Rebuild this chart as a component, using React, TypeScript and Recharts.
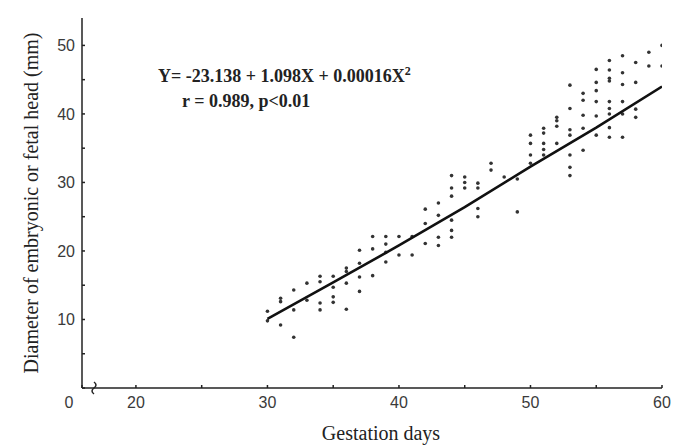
import React from "react"
import { ScatterChart, Scatter, XAxis, YAxis, Customized } from "recharts"

// individual measurements, grouped by gestation day
const pointDays = [30, 31, 32, 33, 34, 35, 36, 37, 38, 39, 40, 41, 42, 43, 44, 45, 46, 47, 48, 49, 50, 51, 52, 53, 54, 55, 56, 57, 58, 59, 60]
const pointValues = [
  [11.2, 9.8],
  [13.1, 12.6, 9.2],
  [14.3, 11.4, 7.4],
  [15.3, 12.8],
  [16.3, 15.5, 12.4, 11.4],
  [16.3, 14.7, 13.3, 12.5],
  [17.5, 17, 15.3, 11.5],
  [20.1, 18.2, 16.2, 14.1],
  [22.1, 20.3, 16.4],
  [22.1, 21, 19.8, 18.4],
  [22.1, 19.4],
  [22.1, 19.4],
  [26.1, 24, 21.1],
  [27, 25.2, 22, 20.8],
  [31, 29.2, 28, 24.5, 23, 22],
  [30.8, 30, 29.2],
  [29.9, 29.2, 26.2, 25],
  [32.8, 31.8],
  [30.8],
  [30.5, 25.7],
  [36.9, 35.7, 34, 32.8],
  [37.9, 37.2, 35.7, 34.8, 34],
  [39.5, 39, 38.2, 35.7],
  [44.2, 40.8, 37.7, 36.9, 34, 32.2, 31],
  [43, 42, 39.8, 37.9, 34.7],
  [46.5, 44.6, 43.4, 41.8, 39.7, 36.9],
  [47.8, 46.4, 45.2, 44.8, 41.8, 40.8, 40, 38, 36.6],
  [48.5, 46, 44.3, 41.8, 40, 36.6],
  [47.5, 44.6, 40.7, 39.5],
  [49, 47],
  [50, 47],
]

// fitted curve
const fitDays = [30, 35, 40, 45, 50, 55, 60]
const fitValues = [10.1, 15.4, 20.8, 26.4, 32.3, 38.0, 44.0]

// x axis is broken: its origin stands for day 0
const X_ORIGIN = 15.9
const xTicks = [X_ORIGIN, 20, 25, 30, 35, 40, 45, 50, 55, 60]
const yTicks = [0, 5, 10, 15, 20, 25, 30, 35, 40, 45, 50]

const equation = "Y= -23.138 + 1.098X + 0.00016X"
const stats = "r = 0.989, p<0.01"
const xTitle = "Gestation days"
const yTitle = "Diameter of embryonic or fetal head (mm)"

const points = pointDays.flatMap((d, i) => pointValues[i].map((v) => ({ x: d, y: v })))
const fit = fitDays.map((d, i) => ({ x: d, y: fitValues[i] }))

const tickFont = { fontFamily: "Liberation Sans", fontSize: 16, fill: "#3a3a3a" }
const serif = "Liberation Serif"

function XTick(props: any) {
  const { x, y, payload } = props
  const v = payload.value
  if (v === X_ORIGIN) {
    const ay = y - 8
    const bx = x + 13
    return (
      <g>
        <text x={x - 13} y={y} dy="0.71em" textAnchor="middle" {...tickFont}>0</text>
        <path d={`M${bx - 1},${ay - 7} q4,3 0,6 q-4,3 0,6`} fill="none" stroke="#222" strokeWidth={1.5} />
      </g>
    )
  }
  if (v % 10 !== 0) return null
  return (
    <text x={x} y={y} dy="0.71em" textAnchor="middle" {...tickFont}>{v}</text>
  )
}

function Dot(props: any) {
  return <circle cx={props.cx} cy={props.cy} r={1.8} fill="#333" />
}

function Equation() {
  return (
    <g fontFamily={serif} fontWeight="bold" fontSize={18} fill="#222">
      <text x={158} y={82}>
        {equation}
        <tspan dy={-7} fontSize={12}>2</tspan>
      </text>
      <text x={182} y={107}>{stats}</text>
    </g>
  )
}

export default function App() {
  return (
    <div style={{ position: "absolute", left: 0, top: 0 }}>
      <ScatterChart width={673} height={446} margin={{ top: 18, right: 11, bottom: 0, left: 0 }}>
        <XAxis
          type="number"
          dataKey="x"
          domain={[X_ORIGIN, 60]}
          ticks={xTicks}
          allowDataOverflow
          height={58}
          stroke="#222"
          strokeWidth={1.5}
          tickSize={-3}
          tickMargin={12}
          tick={<XTick />}
          label={{
            content: (p: any) => {
              const vb = p.viewBox
              return (
                <text x={vb.x + vb.width / 2 + 9} y={440} textAnchor="middle" fontFamily={serif} fontSize={20} fill="#222">
                  {xTitle}
                </text>
              )
            },
          }}
        />
        <YAxis
          type="number"
          dataKey="y"
          domain={[0, 54]}
          ticks={yTicks}
          allowDataOverflow
          width={82}
          stroke="#222"
          strokeWidth={1.5}
          tickSize={-3}
          tickMargin={10}
          tick={tickFont}
          tickFormatter={(v: number) => (v > 0 && v % 10 === 0 ? `${v}` : "")}
          label={{
            content: (p: any) => {
              const vb = p.viewBox
              const cx = vb.x + 38
              const cy = vb.y + vb.height / 2
              return (
                <text x={cx} y={cy} transform={`rotate(-90 ${cx} ${cy})`} textAnchor="middle" fontFamily={serif} fontSize={20} fill="#222">
                  {yTitle}
                </text>
              )
            },
          }}
        />
        <Scatter data={points} shape={<Dot />} isAnimationActive={false} />
        <Scatter
          data={fit}
          line={{ stroke: "#111", strokeWidth: 2.6 }}
          shape={() => <g />}
          isAnimationActive={false}
        />
        <Customized component={<Equation />} />
      </ScatterChart>
    </div>
  )
}
